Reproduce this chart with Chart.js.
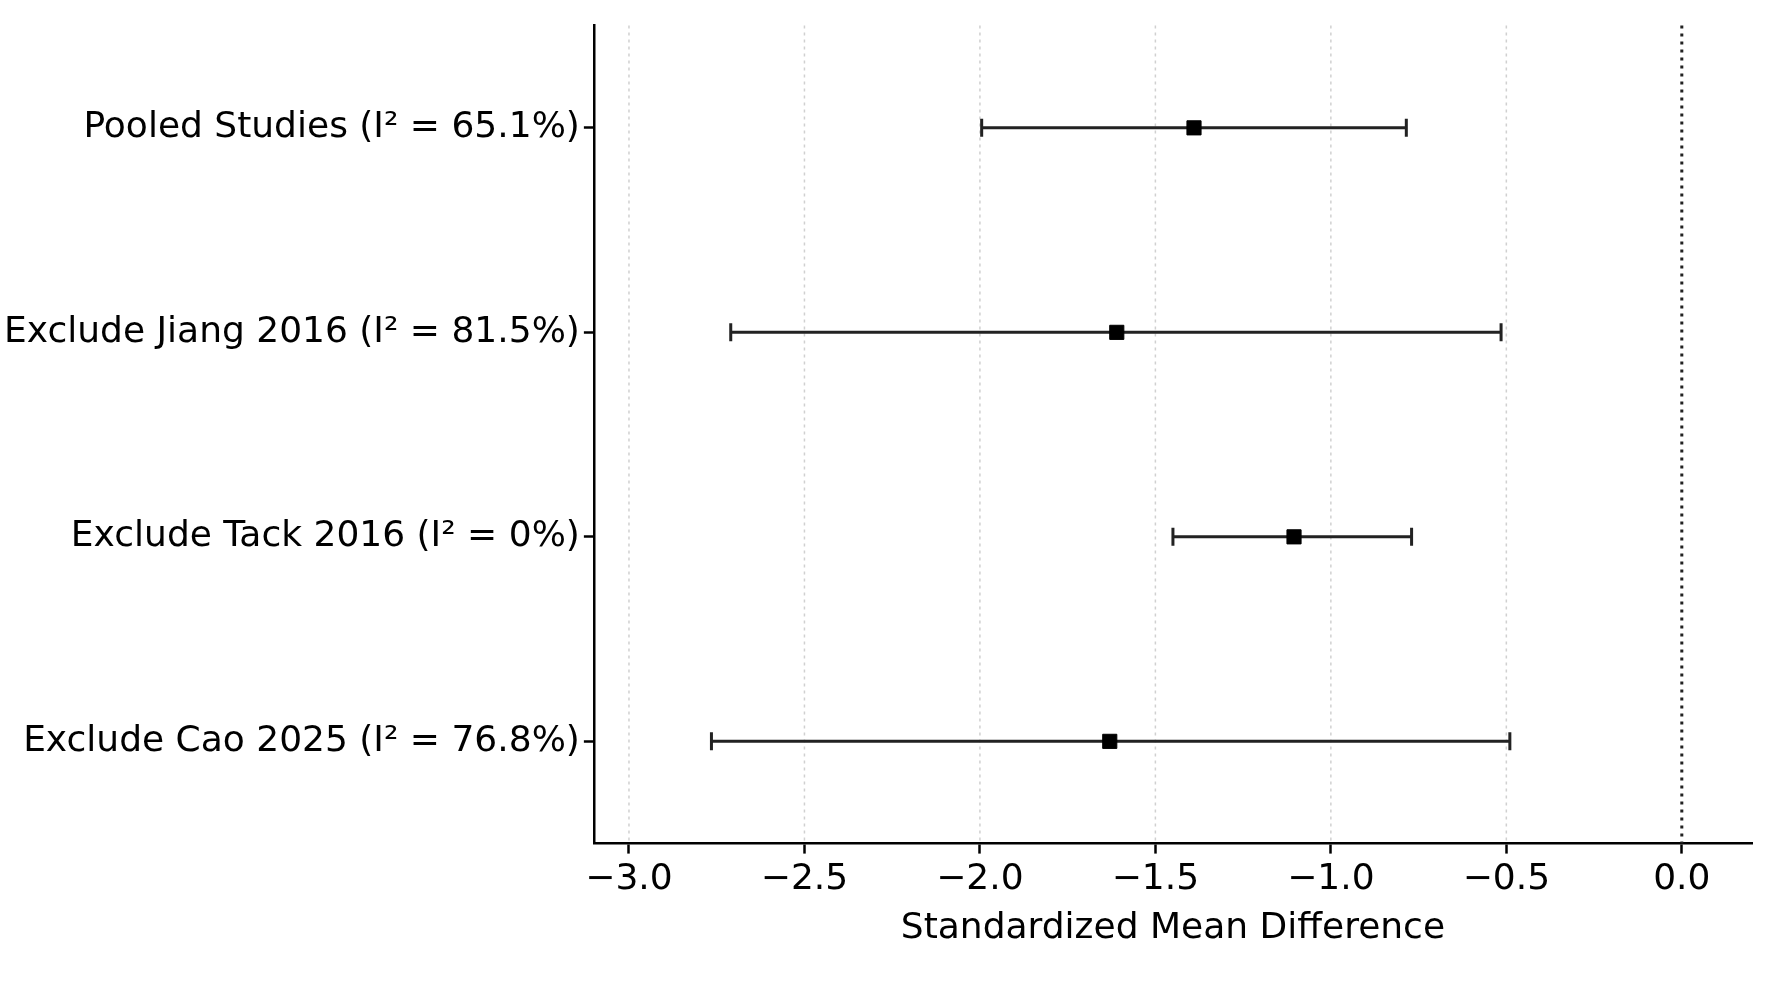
<!DOCTYPE html>
<html><head><meta charset="utf-8">
<script src="https://cdn.jsdelivr.net/npm/chart.js@4"></script>
<style>html,body{margin:0;background:#fff}#wrap{width:1772px;height:988px}</style>
</head><body><div id="wrap"><canvas id="canvas"></canvas></div>
<script>
var labels = ["Pooled Studies (I² = 65.1%)", "Exclude Jiang 2016 (I² = 81.5%)", "Exclude Tack 2016 (I² = 0%)", "Exclude Cao 2025 (I² = 76.8%)"];
var smd = [-1.39, -1.61, -1.105, -1.63];
var lower = [-1.995, -2.71, -1.45, -2.765];
var upper = [-0.785, -0.515, -0.77, -0.49];
var xTicks = [-3.0, -2.5, -2.0, -1.5, -1.0, -0.5, 0.0];

var pts = smd.map(function (v, i) { return {x: v, y: i}; });

// dotted grid, error bars, zero reference line
var forestPlugin = {
	id: 'forest',
	beforeDatasetsDraw: function (chart) {
		var c = chart.ctx, xs = chart.scales.x, ys = chart.scales.y, area = chart.chartArea;
		c.save();
		c.strokeStyle = '#d0d0d0';
		c.lineWidth = 1.5;
		c.setLineDash([3, 4]);
		xTicks.forEach(function (t) {
			if (t === 0) return;
			var x = xs.getPixelForValue(t);
			c.beginPath(); c.moveTo(x, area.top); c.lineTo(x, area.bottom); c.stroke();
		});
		c.strokeStyle = '#222';
		c.lineWidth = 3;
		c.setLineDash([3, 5]);
		c.beginPath();
		c.moveTo(xs.getPixelForValue(0), area.top);
		c.lineTo(xs.getPixelForValue(0), area.bottom);
		c.stroke();
		c.setLineDash([]);
		for (var i = 0; i < smd.length; i++) {
			var y = ys.getPixelForValue(i);
			var a = xs.getPixelForValue(lower[i]), b = xs.getPixelForValue(upper[i]);
			c.beginPath();
			c.moveTo(a, y); c.lineTo(b, y);
			c.moveTo(a, y - 9); c.lineTo(a, y + 9);
			c.moveTo(b, y - 9); c.lineTo(b, y + 9);
			c.stroke();
		}
		c.restore();
	}
};

new Chart(document.getElementById('canvas').getContext('2d'), {
	type: 'scatter',
	data: { datasets: [{ data: pts, pointStyle: 'rect', pointRadius: 10, backgroundColor: '#000', borderColor: '#000' }] },
	plugins: [forestPlugin],
	options: {
		responsive: true, maintainAspectRatio: false, animation: false,
		layout: { padding: { top: 12, right: 20, left: 0, bottom: 34 } },
		plugins: { legend: { display: false }, tooltip: { enabled: false } },
		scales: {
			x: {
				type: 'linear', min: -3.1, max: 0.2,
				afterBuildTicks: function (ax) { ax.ticks = xTicks.map(function (v) { return {value: v}; }); },
				ticks: { color: '#000', font: { family: 'DejaVu Sans', size: 36 }, maxRotation: 0, padding: 4,
					callback: function (v) { return (v < 0 ? '\u2212' : '') + Math.abs(v).toFixed(1); } },
				grid: { color: 'rgba(0,0,0,0)', drawOnChartArea: false, drawTicks: true, tickColor: '#000', tickLength: 10, tickWidth: 2.5 },
				border: { display: true, color: '#000', width: 2.5 },
				title: { display: true, text: 'Standardized Mean Difference', color: '#000', font: { family: 'DejaVu Sans', size: 36 }, padding: { top: 2 } }
			},
			y: {
				type: 'linear', min: -0.5, max: 3.5, reverse: true,
				afterBuildTicks: function (ax) { ax.ticks = labels.map(function (l, i) { return {value: i}; }); },
				ticks: { color: '#000', font: { family: 'DejaVu Sans', size: 36 }, padding: 4,
					callback: function (v) { return labels[v]; } },
				grid: { drawOnChartArea: false, drawTicks: true, tickColor: '#000', tickLength: 10, tickWidth: 2.5 },
				border: { display: true, color: '#000', width: 2.5 }
			}
		}
	}
});
</script>
</body></html>
